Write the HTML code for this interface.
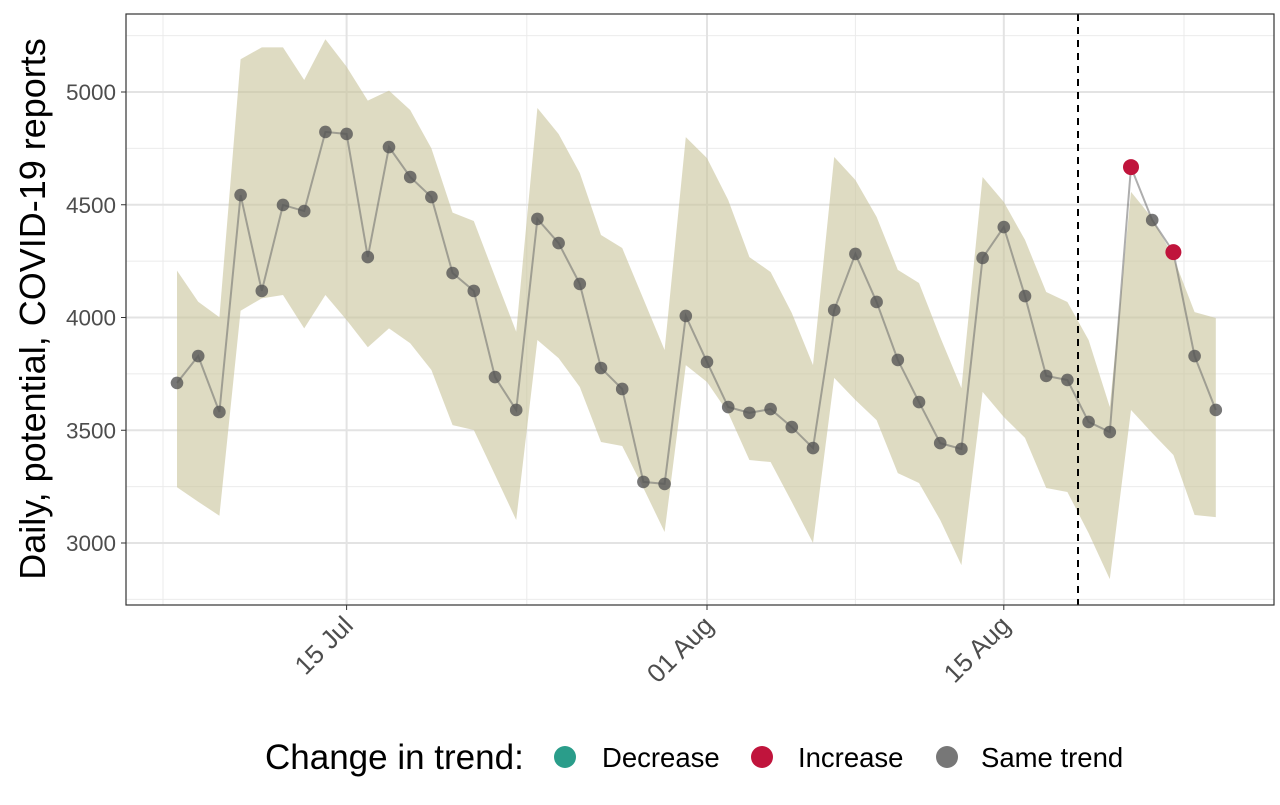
<!DOCTYPE html>
<html><head><meta charset="utf-8">
<style>
body{margin:0;background:#fff;width:1280px;height:800px;overflow:hidden;font-family:"Liberation Sans",Arial,sans-serif;}
svg text{font-family:"Liberation Sans",Arial,sans-serif;}
</style></head>
<body>
<svg id="chart" width="1280" height="800" viewBox="0 0 1280 800"></svg>
<script>
const dayIndex = [0,1,2,3,4,5,6,7,8,9,10,11,12,13,14,15,16,17,18,19,20,21,22,23,24,25,26,27,28,29,30,31,32,33,34,35,36,37,38,39,40,41,42,43,44,45,46,47,48,49];
const reports = [3710,3829,3581,4543,4118,4499,4472,4823,4814,4268,4756,4623,4534,4197,4118,3736,3590,4437,4330,4149,3776,3683,3271,3262,4007,3803,3603,3577,3594,3514,3421,4033,4282,4069,3812,3625,3443,3417,4264,4401,4095,3741,3723,3537,3492,4667,4432,4290,3829,3590];
const upper = [4208,4070,4001,5145,5198,5198,5053,5234,5112,4962,5006,4920,4750,4465,4428,4181,3937,4929,4814,4641,4366,4308,4082,3856,4800,4707,4521,4268,4202,4020,3789,4712,4610,4446,4211,4153,3913,3687,4623,4512,4344,4113,4069,3900,3603,4557,4441,4268,4024,3998];
const lower = [3247,3183,3121,4030,4085,4100,3952,4100,3989,3868,3952,3886,3767,3523,3501,3302,3102,3900,3820,3692,3448,3430,3244,3049,3789,3714,3577,3368,3359,3182,3000,3732,3634,3545,3310,3266,3102,2902,3670,3559,3466,3244,3226,3044,2840,3590,3488,3390,3124,3115];
const trend = ["same","same","same","same","same","same","same","same","same","same","same","same","same","same","same","same","same","same","same","same","same","same","same","same","same","same","same","same","same","same","same","same","same","same","same","same","same","same","same","same","same","same","same","same","same","increase","same","increase","same","same"];
const yTicks = [3000,3500,4000,4500,5000];
const yMinor = [2750,3250,3750,4250,4750,5250];
const xTickIdx = [8,25,39];
const xTickLabels = ["15 Jul","01 Aug","15 Aug"];
const xMinorIdx = [-0.66,16.5,32,47.5];
const cutoffIdx = 42.5;

const L=126,R=1274,T=14,B=605;
const xs = i => 177 + i*21.2;
const ys = v => 92 + (5000 - v)*0.2255;
const NS="http://www.w3.org/2000/svg";
const svg=document.getElementById('chart');
function mk(tag,attrs,parent){const e=document.createElementNS(NS,tag);for(const k in attrs)e.setAttribute(k,attrs[k]);(parent||svg).appendChild(e);return e;}

const grid=mk('g',{});


yMinor.forEach(v=>{const y=ys(v);if(y>T&&y<B)mk('line',{x1:L,x2:R,y1:y,y2:y,stroke:'#ebebeb','stroke-width':1},grid);});
xMinorIdx.forEach(i=>{const x=xs(i);mk('line',{x1:x,x2:x,y1:T,y2:B,stroke:'#ebebeb','stroke-width':1},grid);});
yTicks.forEach(v=>{const y=ys(v);mk('line',{x1:L,x2:R,y1:y,y2:y,stroke:'#e3e3e3','stroke-width':2},grid);});
xTickIdx.forEach(i=>{const x=xs(i);mk('line',{x1:x,x2:x,y1:T,y2:B,stroke:'#e3e3e3','stroke-width':2},grid);});

let d='M'+dayIndex.map(i=>xs(i)+','+ys(upper[i])).join('L');
d+='L'+dayIndex.slice().reverse().map(i=>xs(i)+','+ys(lower[i])).join('L')+'Z';
const rib=mk('path',{d:d,fill:'#c9c59c','fill-opacity':0.62});



const ln=mk('polyline',{points:dayIndex.map(i=>xs(i)+','+ys(reports[i])).join(' '),fill:'none',stroke:'#6b6b6b','stroke-opacity':0.55,'stroke-width':2});



const cut=mk('line',{x1:xs(cutoffIdx),x2:xs(cutoffIdx),y1:T,y2:B,stroke:'#000','stroke-width':2,'stroke-dasharray':'7,6'});



dayIndex.forEach(i=>{
  const inc=trend[i]==='increase';
  const c=mk('circle',{cx:xs(i),cy:ys(reports[i]),r:inc?8:6.3,fill:inc?'#c0143c':'#555','fill-opacity':inc?1:0.8});
  
  
});

const bd=mk('rect',{x:L,y:T,width:R-L,height:B-T,fill:'none',stroke:'#333','stroke-width':1.2});



yTicks.forEach(v=>{const y=ys(v);
  mk('line',{x1:L-5,x2:L,y1:y,y2:y,stroke:'#333','stroke-width':1});
  const t=mk('text',{x:L-10,y:y+8,'text-anchor':'end','font-size':22.5,fill:'#4d4d4d'});t.textContent=v;
  
  
});
xTickIdx.forEach((i,k)=>{const x=xs(i);
  mk('line',{x1:x,x2:x,y1:B,y2:B+5,stroke:'#333','stroke-width':1});
  const ax=x+8, ay=B+22;
  const t=mk('text',{x:ax,y:ay,'text-anchor':'end','font-size':26,fill:'#4d4d4d',transform:`rotate(-45 ${ax} ${ay})`});t.textContent=xTickLabels[k];
  
  
});
const yt=mk('text',{x:45,y:309,'text-anchor':'middle','font-size':36,fill:'#000',transform:'rotate(-90 45 309)'});
yt.textContent='Daily, potential, COVID-19 reports';



const lg=mk('g',{});


const lt=mk('text',{x:265,y:769,'font-size':35,fill:'#000'},lg);lt.textContent='Change in trend:';


const legItems=[['Decrease','#2a9d8a',565,602],['Increase','#c0143c',762,798],['Same trend','#777',947,981]];
legItems.forEach(it=>{
  const c=mk('circle',{cx:it[2],cy:757,r:11,fill:it[1]},lg);
  
  
  const t=mk('text',{x:it[3],y:767,'font-size':27.5,fill:'#000'},lg);t.textContent=it[0];
  
  
});
</script>
</body></html>
